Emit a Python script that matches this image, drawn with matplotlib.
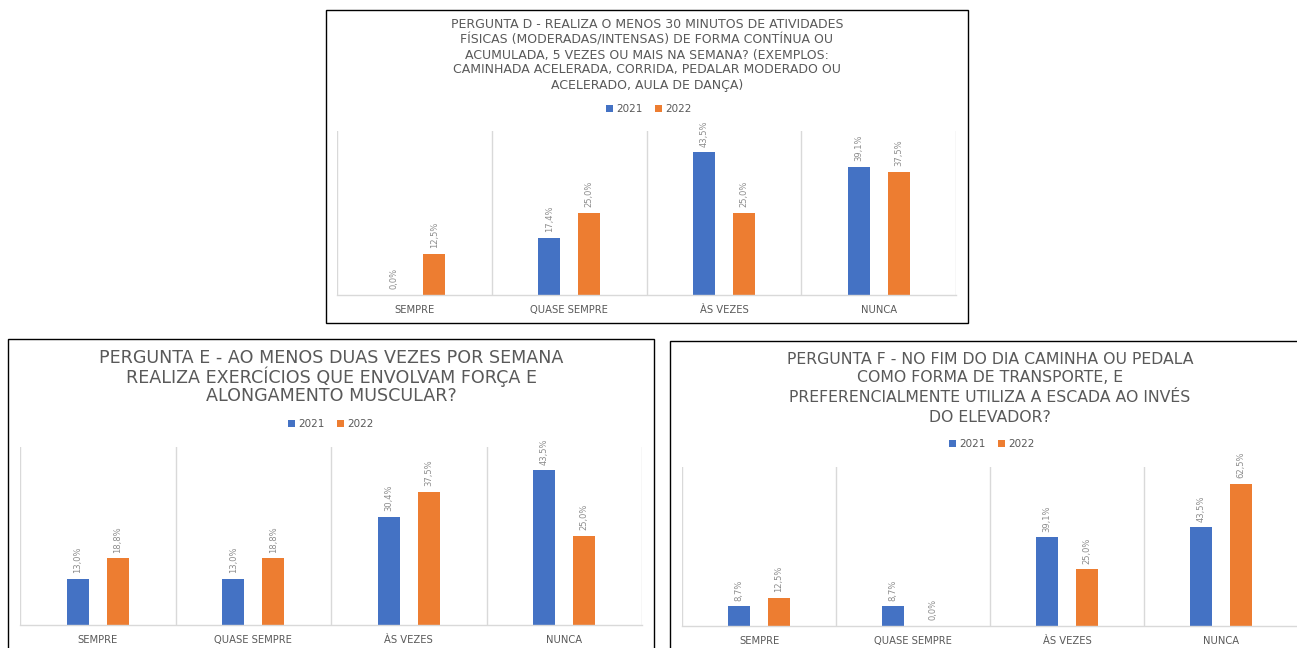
import matplotlib
matplotlib.use("Agg")
import matplotlib.pyplot as plt
from matplotlib.patches import Rectangle, Patch
import numpy as np

plt.rcParams['font.family'] = ['DejaVu Sans']

# ---- data ----
categories = ['SEMPRE', 'QUASE SEMPRE', 'ÀS VEZES', 'NUNCA']
series_names = ['2021', '2022']

d_2021 = [0.0, 17.4, 43.5, 39.1]
d_2022 = [12.5, 25.0, 25.0, 37.5]

e_2021 = [13.0, 13.0, 30.4, 43.5]
e_2022 = [18.8, 18.8, 37.5, 25.0]

f_2021 = [8.7, 8.7, 39.1, 43.5]
f_2022 = [12.5, 0.0, 25.0, 62.5]

title_d = ["PERGUNTA D - REALIZA O MENOS 30 MINUTOS DE ATIVIDADES",
           "FÍSICAS (MODERADAS/INTENSAS) DE FORMA CONTÍNUA OU",
           "ACUMULADA, 5 VEZES OU MAIS NA SEMANA? (EXEMPLOS:",
           "CAMINHADA ACELERADA, CORRIDA, PEDALAR MODERADO OU",
           "ACELERADO, AULA DE DANÇA)"]
title_e = ["PERGUNTA E - AO MENOS DUAS VEZES POR SEMANA",
           "REALIZA EXERCÍCIOS QUE ENVOLVAM FORÇA E",
           "ALONGAMENTO MUSCULAR?"]
title_f = ["PERGUNTA F - NO FIM DO DIA CAMINHA OU PEDALA",
           "COMO FORMA DE TRANSPORTE, E",
           "PREFERENCIALMENTE UTILIZA A ESCADA AO INVÉS",
           "DO ELEVADOR?"]

# ---- style ----
BLUE = '#4472C4'
ORANGE = '#ED7D31'
TEXT = '#595959'
LABEL = '#8c8c8c'
GRID = '#d9d9d9'

W, H = 1297, 648
fig = plt.figure(figsize=(W / 100, H / 100), dpi=100)
fig.patch.set_facecolor('white')


def fx(x):
    return x / W


def fy(y):
    return 1 - y / H


def fmt(v):
    return f"{v:.1f}".replace('.', ',') + '%'


def panel(box, plot, ymax, s2021, s2022, title_lines, title_cx, title_ys,
          title_size, legend_xy):
    # frame around the chart
    bx0, by0, bx1, by1 = box
    fig.add_artist(Rectangle((fx(bx0), fy(by1)), (bx1 - bx0) / W, (by1 - by0) / H,
                             transform=fig.transFigure, fill=False,
                             edgecolor='black', linewidth=1.0, clip_on=False))
    # plotting area
    x0, y0, x1, y1 = plot
    ax = fig.add_axes([fx(x0), fy(y1), (x1 - x0) / W, (y1 - y0) / H])
    x = np.arange(len(categories))
    off, w = 0.129, 0.142
    b1 = ax.bar(x - off, s2021, w, color=BLUE, label=series_names[0])
    b2 = ax.bar(x + off, s2022, w, color=ORANGE, label=series_names[1])
    for bars, vals in ((b1, s2021), (b2, s2022)):
        for rect, v in zip(bars, vals):
            ax.annotate(fmt(v), (rect.get_x() + rect.get_width() / 2, v),
                        xytext=(0, 4), textcoords='offset points',
                        rotation=90, ha='center', va='bottom',
                        fontsize=6.0, color=LABEL)
    ax.set_xlim(-0.5, len(categories) - 0.5)
    ax.set_ylim(0, ymax)
    ax.set_yticks([])
    ax.set_xticks(x)
    ax.set_xticklabels(categories, fontsize=7.2, color=TEXT)
    ax.tick_params(axis='x', which='major', length=0, pad=7.5)
    ax.set_xticks(np.arange(-0.5, len(categories)), minor=True)
    ax.tick_params(axis='x', which='minor', length=0)
    ax.grid(which='minor', axis='x', color=GRID, linewidth=1.0)
    ax.set_axisbelow(True)
    for s in ('top', 'left', 'right'):
        ax.spines[s].set_visible(False)
    ax.spines['bottom'].set_color(GRID)
    ax.spines['bottom'].set_linewidth(1.0)
    ax.set_facecolor('none')

    for line, ty in zip(title_lines, title_ys):
        fig.text(fx(title_cx), fy(ty), line, ha='center', va='center',
                 fontsize=title_size, color=TEXT)

    handles = [Patch(facecolor=BLUE), Patch(facecolor=ORANGE)]
    fig.legend(handles, series_names, loc='center',
               bbox_to_anchor=(fx(legend_xy[0]), fy(legend_xy[1])),
               ncol=2, frameon=False, fontsize=7.5, labelcolor=TEXT,
               handlelength=0.6, handleheight=0.6, handletextpad=0.35,
               columnspacing=1.2, borderpad=0, borderaxespad=0)
    return ax


panel((326, 10, 968, 323), (337, 131, 956, 295), 50, d_2021, d_2022,
      title_d, 647, [25, 40, 55, 70, 85], 9.0, (649, 109))
panel((8, 339, 654, 700), (20, 447, 642, 625), 50, e_2021, e_2022,
      title_e, 331, [358, 377, 396], 12.6, (331, 424))
panel((670, 341, 1340, 700), (682, 467, 1298, 626), 70, f_2021, f_2022,
      title_f, 990, [359, 378, 398, 417], 11.3, (992, 444))

fig.savefig('out.png', dpi=100, facecolor='white')
